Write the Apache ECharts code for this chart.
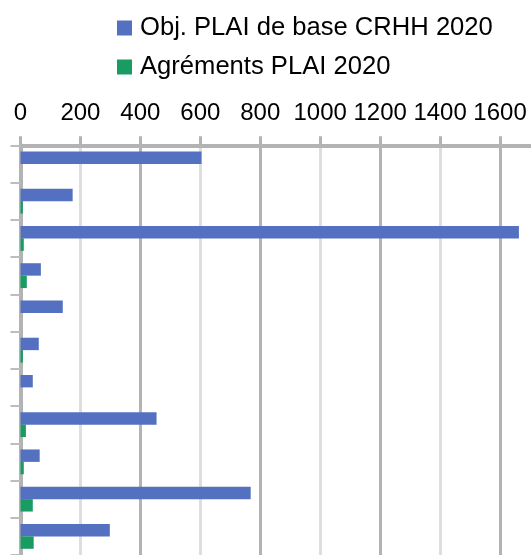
<!DOCTYPE html>
<html>
<head>
<meta charset="utf-8">
<script src="https://cdn.jsdelivr.net/npm/echarts@6/dist/echarts.min.js"></script>
<style>html,body{margin:0;padding:0;background:#fff}#c{width:531px;height:555px}</style>
</head>
<body>
<div id="c"></div>
<script>
const categories = ['1','2','3','4','5','6','7','8','9','10','11'];
const objPlai = [604, 174, 1663, 68, 141, 61, 41, 454, 64, 768, 298];
const agrementsPlai = [0, 8, 11, 21, 0, 8, 0, 18, 11, 41, 44];
const seriesNames = ['Obj. PLAI de base CRHH 2020', 'Agréments PLAI 2020'];
const tickLabels = [0, 200, 400, 600, 800, 1000, 1200, 1400, 1600];

const chart = echarts.init(document.getElementById('c'), null, {renderer: 'canvas'});
chart.setOption({
  animation: false,
  textStyle: {fontFamily: 'Liberation Sans'},
  legend: {
    orient: 'vertical',
    left: 117, top: 15, padding: 0,
    itemWidth: 15, itemHeight: 15, itemGap: 13,
    icon: 'rect',
    textStyle: {fontSize: 25.6, color: '#000', fontFamily: 'Liberation Sans', padding: [0,0,0,3]},
    data: seriesNames
  },
  grid: {left: 20.5, right: 1, top: 145.3, bottom: -6, containLabel: false},
  xAxis: {
    type: 'value', position: 'top', min: 0, max: 1700, interval: 100,
    axisLine: {show: true, lineStyle: {color: '#b3b3b3', width: 4}},
    axisTick: {show: true, length: 9, lineStyle: {color: '#b3b3b3', width: 3}, customValues: tickLabels},
    axisLabel: {customValues: tickLabels, fontSize: 24, color: '#000', margin: 20, fontFamily: 'Liberation Sans',
      hideOverlap: false, showMinLabel: true, showMaxLabel: true,
      formatter: function (v) { return String(v); }},
    splitLine: {show: true, showMinLine: true, showMaxLine: true, lineStyle: {color: ['#b3b3b3', '#dedede'], width: 3}}
  },
  yAxis: {
    type: 'category', inverse: true, data: categories,
    axisLine: {show: true, lineStyle: {color: '#b3b3b3', width: 4}},
    axisTick: {show: true, length: 10, lineStyle: {color: '#bdbdbd', width: 2}},
    axisLabel: {show: false},
    splitLine: {show: false}
  },
  series: [
    {name: seriesNames[0], type: 'bar', data: objPlai, itemStyle: {color: '#5470c0'}, barGap: '0%', barCategoryGap: '33.3%'},
    {name: seriesNames[1], type: 'bar', data: agrementsPlai, itemStyle: {color: '#189c62'}, barGap: '0%', barCategoryGap: '33.3%'}
  ]
});
</script>
</body>
</html>
